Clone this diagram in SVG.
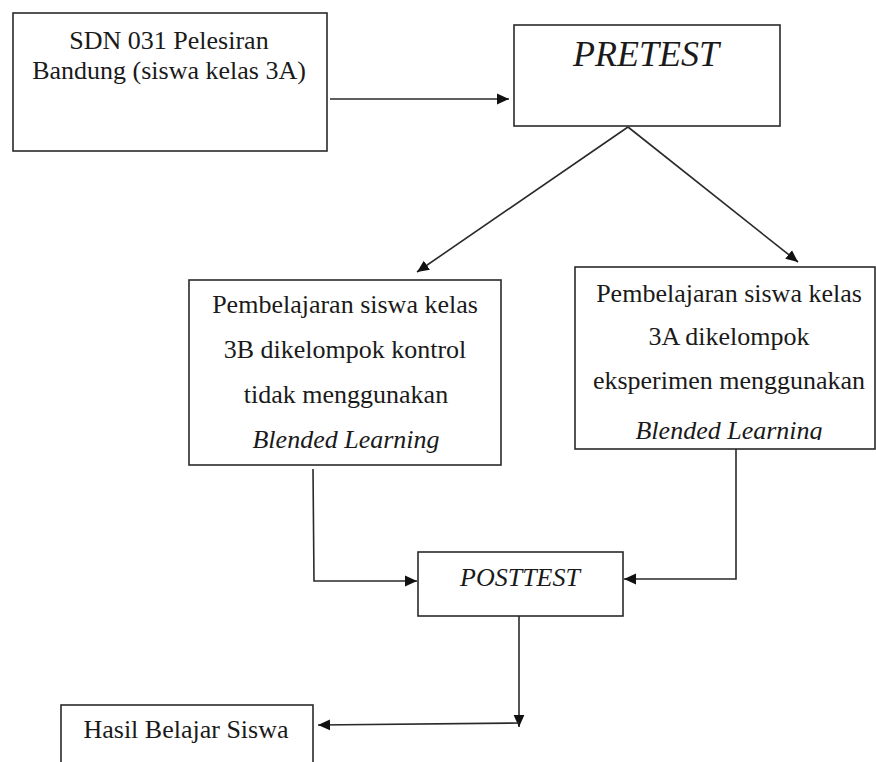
<svg xmlns="http://www.w3.org/2000/svg" width="876" height="762" viewBox="0 0 876 762">
<style>
.box{fill:#fff;stroke:#2a2a2a;stroke-width:1.6}
.t{font-family:"Liberation Serif","Times New Roman",serif;font-size:26px;fill:#1a1a1a;text-anchor:middle}
.i{font-style:italic}
.c{fill:none;stroke:#2a2a2a;stroke-width:1.6}
</style>
<defs>
<marker id="ah2" viewBox="0 0 10 10" refX="10" refY="5" markerWidth="12" markerHeight="12" markerUnits="userSpaceOnUse" orient="auto"><path d="M0,0.5 L10,5 L0,9.5 z" fill="#111"/></marker>
<clipPath id="clipR"><rect x="575" y="400" width="301" height="40"/></clipPath>
</defs>
<g id="node-sdn">
<rect class="box" x="13" y="13" width="314" height="138"/>
<text class="t" x="169" y="49">SDN 031 Pelesiran</text>
<text class="t" x="169" y="79">Bandung (siswa kelas 3A)</text>
</g>
<g id="node-pretest">
<rect class="box" x="514" y="25" width="266" height="101"/>
<text class="t i" x="646" y="66" style="font-size:36px">PRETEST</text>
</g>
<g id="node-kontrol">
<rect class="box" x="189" y="280" width="312" height="185"/>
<text class="t" x="345" y="313">Pembelajaran siswa kelas</text>
<text class="t" x="345" y="358">3B dikelompok kontrol</text>
<text class="t" x="346" y="403">tidak menggunakan</text>
<text class="t i" x="346" y="448">Blended Learning</text>
</g>
<g id="node-eksperimen">
<rect class="box" x="575" y="267" width="300" height="182"/>
<text class="t" x="729" y="302">Pembelajaran siswa kelas</text>
<text class="t" x="729" y="345">3A dikelompok</text>
<text class="t" x="729" y="389">eksperimen menggunakan</text>
<text class="t i" x="729" y="439" clip-path="url(#clipR)">Blended Learning</text>
</g>
<g id="node-posttest">
<rect class="box" x="418" y="552" width="205" height="64"/>
<text class="t i" x="520" y="586">POSTTEST</text>
</g>
<g id="node-hasil">
<rect class="box" x="61" y="705" width="252" height="70"/>
<text class="t" x="186" y="738">Hasil Belajar Siswa</text>
</g>
<g id="connectors">
<line class="c" x1="330" y1="99" x2="509" y2="99" marker-end="url(#ah2)"/>
<line class="c" x1="628" y1="127" x2="417" y2="272" marker-end="url(#ah2)"/>
<line class="c" x1="628" y1="127" x2="798" y2="262" marker-end="url(#ah2)"/>
<polyline class="c" points="313,469 314,581 417,581" marker-end="url(#ah2)"/>
<polyline class="c" points="736,449 736,579 624,579" marker-end="url(#ah2)"/>
<line class="c" x1="519" y1="616" x2="519" y2="727" marker-end="url(#ah2)"/>
<line class="c" x1="519" y1="723" x2="318" y2="725" marker-end="url(#ah2)"/>
</g>
</svg>
